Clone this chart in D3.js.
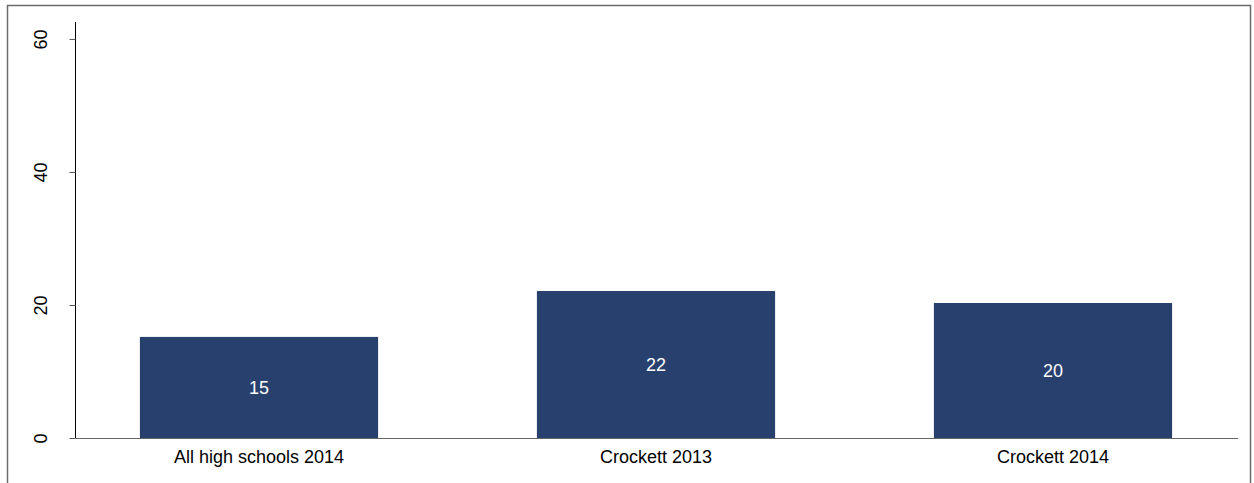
<!DOCTYPE html>
<html><head><meta charset="utf-8">
<script src="https://cdn.jsdelivr.net/npm/d3@7"></script>
<style>body{margin:0;background:#fff;} svg{display:block;} text{font-family:"Liberation Sans",Arial,sans-serif;}</style>
</head><body>
<svg id="c" width="1254" height="483"></svg>
<script>
const categories = ["All high schools 2014", "Crockett 2013", "Crockett 2014"];
const values = [15.2, 22.1, 20.3];
const valueLabels = ["15", "22", "20"];
const yTicks = [0, 20, 40, 60];

const svg = d3.select("#c");
// outer frame
svg.append("path").attr("d","M7.5,483 V5.5 H1250.5 V483").attr("fill","none").attr("stroke","#6b6b6b").attr("stroke-width",1.5);

const y = d3.scaleLinear().domain([0, 62.55]).range([438, 22]);
const x = d3.scaleBand().domain(categories).range([60.5, 1251.5]).paddingInner(0.4).paddingOuter(0.2);

// bars
svg.selectAll("rect.bar").data(values).join("rect").attr("class","bar")
  .attr("x",(d,i)=>x(categories[i])).attr("width",x.bandwidth())
  .attr("y",d=>y(d)).attr("height",d=>y(0)-y(d))
  .attr("fill","#27406e");

svg.selectAll("text.vl").data(values).join("text").attr("class","vl")
  .attr("x",(d,i)=>x(categories[i])+x.bandwidth()/2)
  .attr("y",d=>(y(d)+y(0))/2).attr("dy","0.35em")
  .attr("text-anchor","middle").attr("fill","#fff").attr("font-size",18)
  .text((d,i)=>valueLabels[i]);

// y axis
const ya = svg.append("g").attr("transform","translate(75.5,0)")
  .call(d3.axisLeft(y).tickValues(yTicks).tickSize(6).tickPadding(0).tickFormat(d3.format("d")));
ya.select(".domain").attr("d",`M0,${y(62.55)}V${y(0)}`).attr("stroke","#000");
ya.selectAll(".tick line").attr("stroke","#555");
ya.selectAll(".tick text").attr("font-size",18).attr("fill","#000")
  .attr("transform","rotate(-90)").attr("x",0).attr("y",-35).attr("dy","0.35em").attr("text-anchor","middle");

// x axis line
svg.append("line").attr("x1",75).attr("x2",1238).attr("y1",438.5).attr("y2",438.5).attr("stroke","#666").attr("stroke-width",1.2);
svg.selectAll("text.cat").data(categories).join("text").attr("class","cat")
  .attr("x",d=>x(d)+x.bandwidth()/2).attr("y",463)
  .attr("text-anchor","middle").attr("font-size",18).attr("fill","#000").text(d=>d);
</script>
</body></html>
